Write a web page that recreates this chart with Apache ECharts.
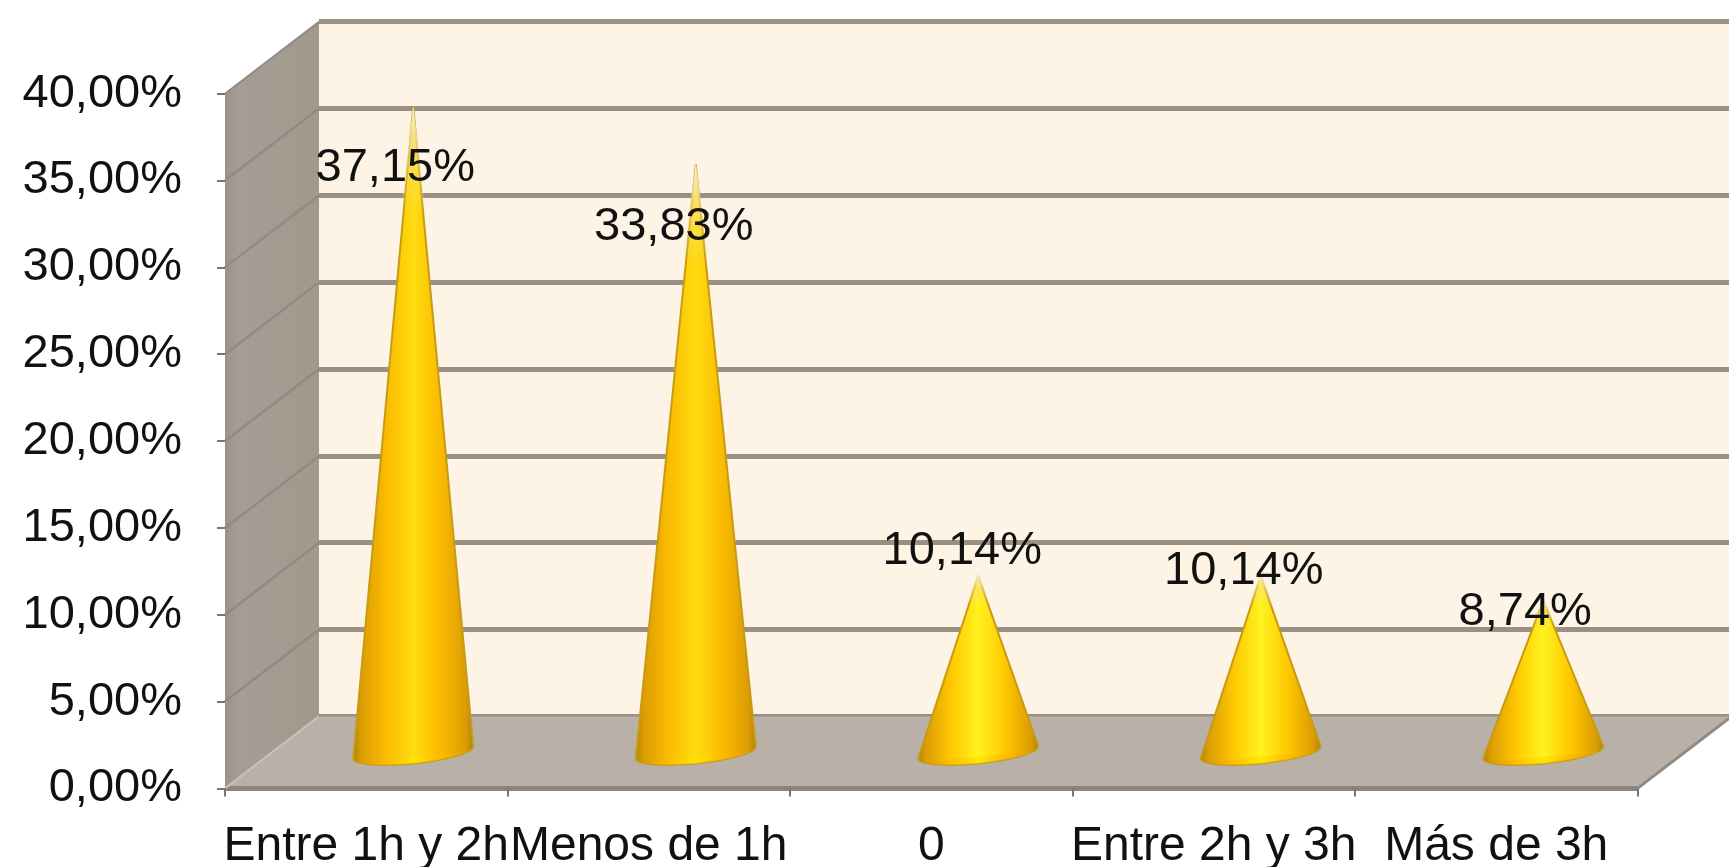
<!DOCTYPE html>
<html>
<head>
<meta charset="utf-8">
<style>html,body{margin:0;padding:0;background:#fff;overflow:hidden}#c{width:1729px;height:867px}</style>
<script src="https://cdn.jsdelivr.net/npm/echarts@6/dist/echarts.min.js"></script>
</head>
<body>
<div id="c"></div>
<script>
const categories = ['Entre 1h y 2h', 'Menos de 1h', '0', 'Entre 2h y 3h', 'Más de 3h'];
const shares = [37.15, 33.83, 10.14, 10.14, 8.74];
const labelNudge = [[-18, 61], [-22, 62], [-16, -25], [-17, -5], [-18, 11]];
const yTicks = [0, 5, 10, 15, 20, 25, 30, 35, 40];

const pct = v => v.toFixed(2).replace('.', ',') + '%';
const FONT = '"Liberation Sans", Arial, sans-serif';
const FRONT = { left: 225, top: 93.7, width: 1412.5, height: 694.7 };
const DX = 94, DY = 72;
const BACK = { left: FRONT.left + DX, top: FRONT.top - DY, width: FRONT.width, height: FRONT.height };
const LINE = '#9a9083';

function shell(params, api) {
  const cs = params.coordSys;
  const x0 = cs.x, x1 = cs.x + cs.width, y0 = cs.y + cs.height, y1 = cs.y;
  const kids = [
    { type: 'polygon', shape: { points: [[x0, y0], [x1, y0], [x1 + DX, y0 - DY], [x0 + DX, y0 - DY]] },
      style: { fill: '#b9b0a7' } },
    { type: 'polygon', shape: { points: [[x0, y0], [x0, y1], [x0 + DX, y1 - DY], [x0 + DX, y0 - DY]] },
      style: { fill: { type: 'linear', x: 0, y: 0, x2: 1, y2: 0, colorStops: [
        { offset: 0, color: '#9b928b' }, { offset: 0.15, color: '#a59d96' }, { offset: 1, color: '#a2988c' }] } } },
    { type: 'line', shape: { x1: x0, y1: y0, x2: x1, y2: y0 }, style: { stroke: '#8a8580', lineWidth: 5 } },
    { type: 'line', shape: { x1: x1, y1: y0, x2: x1 + DX, y2: y0 - DY }, style: { stroke: '#8f8a84', lineWidth: 3 } },
    { type: 'line', shape: { x1: x0, y1: y1, x2: x0 + DX, y2: y1 - DY }, style: { stroke: '#8f8a84', lineWidth: 2 } }
  ];
  yTicks.slice(0, -1).forEach(t => {
    const p = api.coord([0, t]);
    kids.push({ type: 'line', shape: { x1: x0, y1: p[1], x2: x0 + DX, y2: p[1] - DY },
      style: { stroke: t === 0 ? '#c9c2bb' : '#938a81', lineWidth: t === 0 ? 2 : 2.5 } });
  });
  return { type: 'group', children: kids };
}

function cone(params, api) {
  const i = api.value(0), v = api.value(1);
  const top = api.coord([i, v]), base = api.coord([i, 0]);
  const cx = base[0] + DX / 2, by = base[1] - DY / 2, ay = top[1] - DY / 2;
  const rx = 60, ry = 11, tilt = -0.1;
  const rim = [];
  for (let k = 0; k <= 24; k++) {
    const a = Math.PI * k / 24;
    const ex = -rx * Math.cos(a), ey = ry * Math.sin(a);
    rim.push([cx + ex, by + ey + ex * tilt]);
  }
  const barGrad = (a, b, c) => ({ type: 'linear', x: 0, y: 0, x2: 1, y2: 0, colorStops: [
    { offset: 0, color: '#a8800c' }, { offset: 0.07, color: '#dc9c04' }, { offset: 0.28, color: a },
    { offset: 0.5, color: b }, { offset: 0.72, color: a }, { offset: 0.93, color: c }, { offset: 1, color: '#a8800c' }] });
  const short = v < 20;
  const body = barGrad(short ? '#ffc800' : '#fbbb00', short ? '#fff21e' : '#ffdc10', '#dc9c04');
  const tipH = (by - ay) * 0.17;
  const tipW = rx * 0.17;
  const band = rim.slice().reverse().map(p => [p[0], p[1] - 7 * Math.sin(Math.PI * (p[0] - cx + rx) / (2 * rx))]);
  const kids = [
    { type: 'polygon', shape: { points: [[cx, ay]].concat(rim) },
      style: { fill: body, stroke: '#c79c12', lineWidth: 2, lineJoin: 'round' } },
    { type: 'polygon', shape: { points: rim.concat(band) },
      style: { fill: barGrad('#fdbb00', '#ffe600', '#e8a400'), opacity: 0.8 } },
    { type: 'polygon', shape: { points: [[cx, ay - 2], [cx - tipW - 3, ay + tipH], [cx + tipW + 3, ay + tipH]] },
      style: { fill: { type: 'linear', x: 0, y: 0, x2: 0, y2: 1, colorStops: [
        { offset: 0, color: 'rgba(253,243,228,1)' }, { offset: 0.45, color: 'rgba(245,225,130,0.6)' }, { offset: 1, color: 'rgba(245,225,130,0)' }] } } },
    { type: 'text', z2: 10,
      style: { text: pct(v), x: cx + labelNudge[i][0], y: ay + labelNudge[i][1], align: 'center', verticalAlign: 'middle',
        font: '47px ' + FONT, fill: '#111' } }
  ];
  return { type: 'group', children: kids };
}

const chart = echarts.init(document.getElementById('c'), null, { renderer: 'canvas' });
chart.setOption({
  animation: false,
  backgroundColor: '#fff',
  grid: [
    Object.assign({ show: false, containLabel: false, outerBoundsMode: 'none' }, FRONT),
    Object.assign({ show: true, backgroundColor: '#fdf4e6', borderWidth: 0, containLabel: false, outerBoundsMode: 'none' }, BACK)
  ],
  xAxis: [
    { type: 'category', gridIndex: 0, data: categories, boundaryGap: true, z: 5,
      axisLine: { show: false },
      axisTick: { show: true, length: 8, interval: 0, alignWithLabel: false, lineStyle: { color: '#777', width: 2 } },
      axisLabel: { interval: 0, hideOverlap: false, margin: 34, fontSize: 48, fontFamily: FONT, color: '#111' } },
    { type: 'category', gridIndex: 1, data: categories, show: false }
  ],
  yAxis: [
    { type: 'value', gridIndex: 0, min: 0, max: 40, interval: 5, z: 5,
      axisLine: { show: false },
      axisTick: { show: true, length: 8, lineStyle: { color: '#777', width: 2 } },
      splitLine: { show: false },
      axisLabel: { margin: 43, fontSize: 47, fontFamily: FONT, color: '#111', padding: [10, 0, 0, 0], formatter: v => pct(v) } },
    { type: 'value', gridIndex: 1, min: 0, max: 40, interval: 5,
      axisLine: { show: false }, axisTick: { show: false }, axisLabel: { show: false },
      splitLine: { show: true, lineStyle: { color: LINE, width: 5 } } }
  ],
  series: [
    { type: 'custom', xAxisIndex: 0, yAxisIndex: 0, renderItem: shell, clip: false, z: 1, silent: true, data: [[0, 0]] },
    { type: 'custom', xAxisIndex: 0, yAxisIndex: 0, renderItem: cone, clip: false, z: 3, silent: true,
      encode: { x: 0, y: 1 }, data: shares.map((v, i) => [i, v]) }
  ]
});
</script>
</body>
</html>
